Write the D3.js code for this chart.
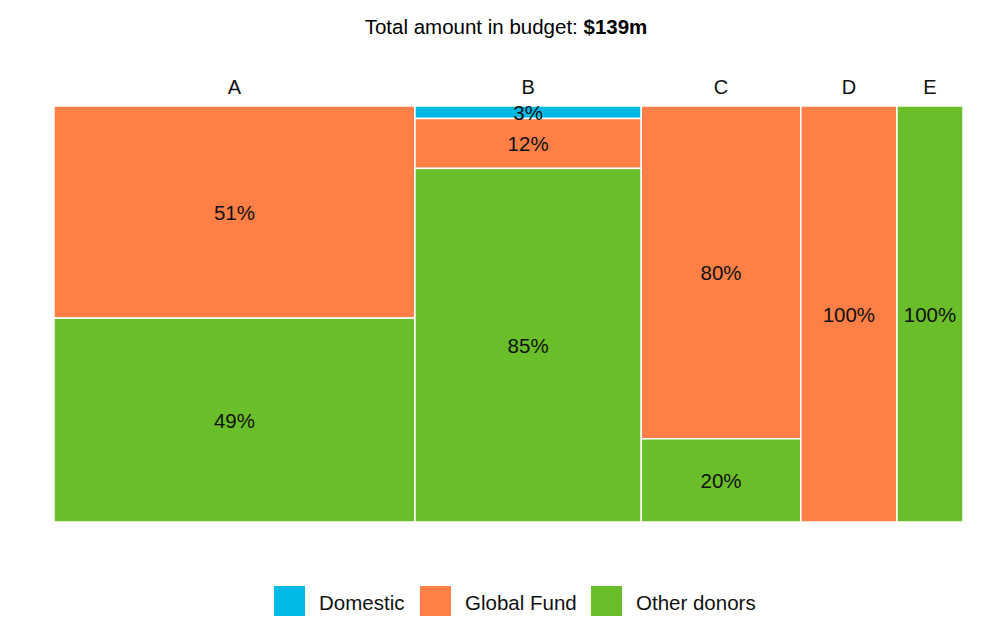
<!DOCTYPE html>
<html>
<head>
<meta charset="utf-8">
<script src="https://cdn.jsdelivr.net/npm/d3@7"></script>
<style>
  body { margin: 0; background: #fff; }
  text { font-family: "Liberation Sans", Arial, sans-serif; }
</style>
</head>
<body>
<script>
// budget per recipient ($m) and share of each funding source (%)
var categories = ["A", "B", "C", "D", "E"];
var budget = [55.2, 34.6, 24.4, 14.7, 10.1];
var sources = ["Domestic", "Global Fund", "Other donors"];
var domestic = [0, 3, 0, 0, 0];
var globalFund = [51, 12, 80, 100, 0];
var otherDonors = [49, 85, 20, 0, 100];
var colors = ["#00b9e4", "#ff7f47", "#6abe29"];

var W = 1000, H = 619;
var margin = {top: 106, bottom: 97, left: 54, right: 37};

var svg = d3.select("body").append("svg")
    .attr("width", W)
    .attr("height", H);

var total = d3.sum(budget);

svg.append("text")
    .attr("x", W / 2 + 6)
    .attr("y", 34)
    .attr("text-anchor", "middle")
    .style("font-size", "20.5px")
    .html("Total amount in budget: <tspan font-weight='bold'>$" + Math.round(total) + "m</tspan>");

var x = d3.scaleLinear().domain([0, total]).range([margin.left, W - margin.right]);
var y = d3.scaleLinear().domain([0, 100]).range([margin.top, H - margin.bottom]);

var seriesVals = [domestic, globalFund, otherDonors];

// build cells
var cells = [];
var cum = 0;
categories.forEach(function(c, i) {
  var x0 = cum, x1 = cum + budget[i];
  var y0 = 0;
  seriesVals.forEach(function(s, j) {
    var v = s[i];
    if (v > 0) {
      cells.push({cat: c, src: j, x0: x0, x1: x1, y0: y0, y1: y0 + v, v: v});
    }
    y0 += v;
  });
  cum = x1;
});

var g = svg.append("g");

g.selectAll("rect").data(cells).enter().append("rect")
    .attr("x", function(d) { return x(d.x0); })
    .attr("y", function(d) { return y(d.y0); })
    .attr("width", function(d) { return x(d.x1) - x(d.x0); })
    .attr("height", function(d) { return y(d.y1) - y(d.y0); })
    .attr("fill", function(d) { return colors[d.src]; })
    .attr("stroke", "#fff")
    .attr("stroke-width", 1.5);

g.selectAll("text.lab").data(cells).enter().append("text")
    .attr("class", "lab")
    .attr("x", function(d) { return (x(d.x0) + x(d.x1)) / 2; })
    .attr("y", function(d) { return (y(d.y0) + y(d.y1)) / 2 + 2.5; })
    .attr("text-anchor", "middle")
    .attr("dominant-baseline", "middle")
    .style("font-size", "20.5px")
    .attr("fill", "#111")
    .text(function(d) { return d.v + "%"; });

// column labels
var cum2 = 0;
var colMid = budget.map(function(b) { var m = cum2 + b / 2; cum2 += b; return m; });
svg.selectAll("text.cat").data(categories).enter().append("text")
    .attr("class", "cat")
    .attr("x", function(d, i) { return x(colMid[i]); })
    .attr("y", 94)
    .attr("text-anchor", "middle")
    .style("font-size", "20px")
    .attr("fill", "#111")
    .text(function(d) { return d; });

// legend
var legX = [274, 420, 591];
var leg = svg.selectAll("g.leg").data(sources).enter().append("g")
    .attr("class", "leg")
    .attr("transform", function(d, i) { return "translate(" + legX[i] + ",586)"; });
leg.append("rect")
    .attr("width", 31)
    .attr("height", 30)
    .attr("fill", function(d, i) { return colors[i]; });
leg.append("text")
    .attr("x", 45)
    .attr("y", 24)
    .style("font-size", "20.5px")
    .attr("fill", "#111")
    .text(function(d) { return d; });
</script>
</body>
</html>
